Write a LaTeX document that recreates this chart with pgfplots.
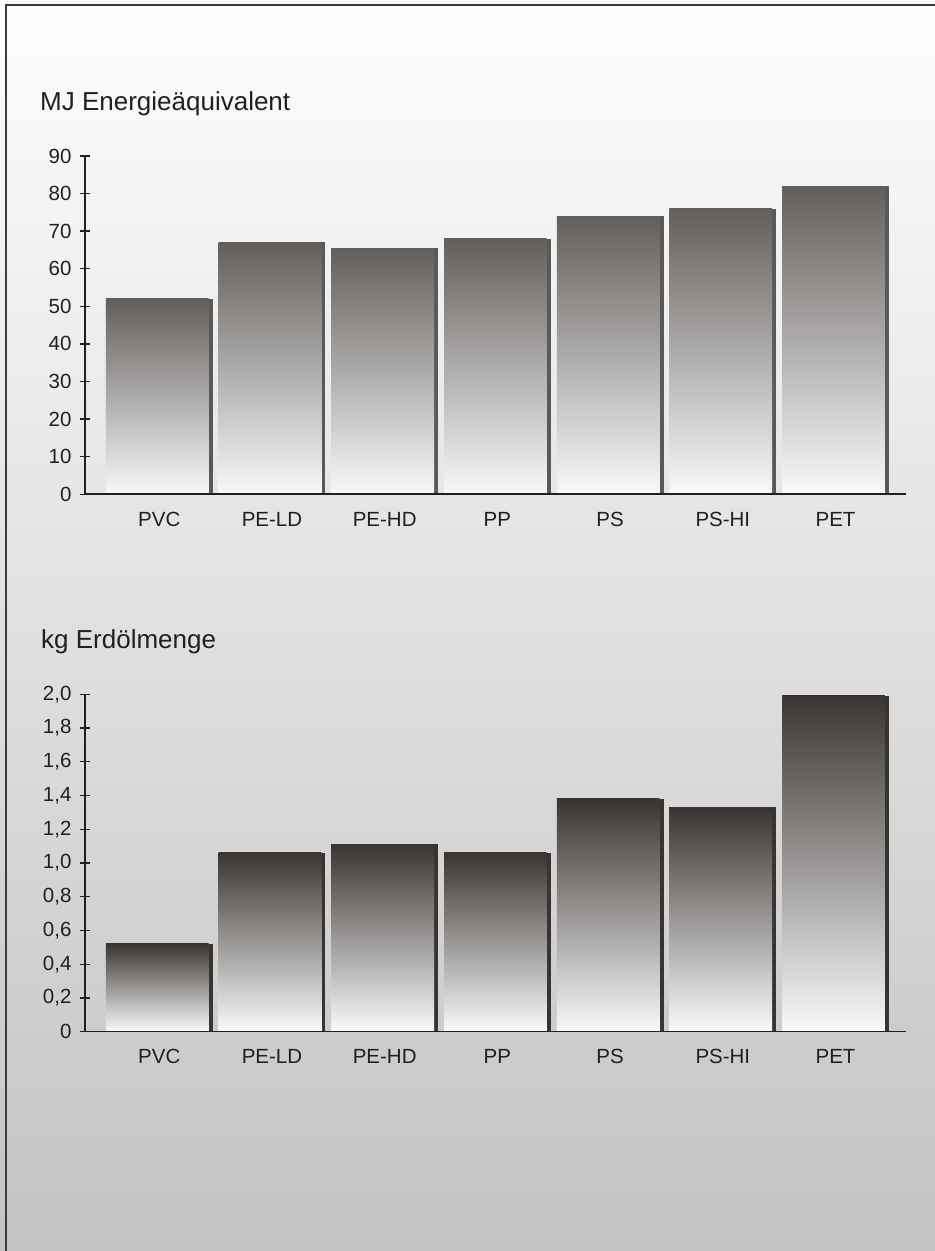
\documentclass[border=0pt]{standalone}
\usepackage{fontspec}
\setmainfont{Liberation Sans}
\usepackage{pgfplots}
\pgfplotsset{compat=1.18}

\definecolor{ink}{RGB}{35,31,32}
\definecolor{bgtop}{RGB}{253,253,253}
\definecolor{bgbot}{RGB}{195,195,195}
\definecolor{frame}{RGB}{60,60,60}
\definecolor{mjtop}{RGB}{98,94,91}
\definecolor{mjbot}{RGB}{249,249,249}
\definecolor{mjside}{RGB}{92,88,86}
\definecolor{kgtop}{RGB}{58,53,50}
\definecolor{kgbot}{RGB}{250,250,250}
\definecolor{kgside}{RGB}{58,52,49}

% MJ energy equivalent per kg of plastic
\pgfplotstableread{
x  v
0  52
1  67
2  65.5
3  68
4  74
5  76
6  82
}\mjdata
% kg crude oil per kg of plastic
\pgfplotstableread{
x  v
0  0.52
1  1.06
2  1.11
3  1.06
4  1.38
5  1.33
6  1.99
}\kgdata

\pgfplotsset{
  barchart/.style={
    scale only axis,
    width=821bp,
    xmin=-0.659, xmax=6.625,
    ymin=0,
    axis x line*=bottom,
    axis y line*=left,
    axis line style={ink, line width=1.6bp, -},
    axis on top,
    xtick={0,...,6},
    xticklabels={PVC,PE-LD,PE-HD,PP,PS,PS-HI,PET},
    xtick style={draw=none},
    ytick style={ink, line width=1.4bp},
    ytick align=center,
    major tick length=10bp,
    tick label style={font=\fontsize{20.5bp}{23bp}\selectfont, text=ink},
    xticklabel style={anchor=base, inner sep=0pt, yshift=-32bp},
    yticklabel style={anchor=east, xshift=-5bp},
    clip=false,
  },
}

% one bar per plot, so that every bar carries its own gradient
\newcommand{\shadedbars}[4]{% table, side colour, top colour, bottom colour
  \pgfplotsinvokeforeach{0,...,6}{
    \addplot[ybar, bar width=0.947, bar shift=0, fill=#2, draw=none,
             restrict expr to domain={\coordindex}{##1:##1}]
      table[x=x, y=v] {#1};
    \addplot[ybar, bar width=0.911, bar shift=-0.018, draw=none,
             top color=#3, bottom color=#4,
             restrict expr to domain={\coordindex}{##1:##1}]
      table[x=x, y=v] {#1};
  }%
}

\begin{document}
\begin{tikzpicture}[x=1bp,y=1bp]
  \useasboundingbox (0,0) rectangle (935,1251);
  \shade[top color=bgtop, bottom color=bgbot] (0,0) rectangle (935,1251);
  \draw[frame, line width=2bp] (6,0) -- (6,1246) -- (935,1246);

  \node[anchor=base west, inner sep=0pt, text=ink,
        font=\fontsize{26bp}{30bp}\selectfont] at (40,1140) {MJ Energieäquivalent};
  \node[anchor=base west, inner sep=0pt, text=ink,
        font=\fontsize{26bp}{30bp}\selectfont] at (41,602.7) {kg Erdölmenge};

  \begin{axis}[barchart,
      at={(85bp,756.7bp)}, anchor=south west,
      height=338.3bp, ymax=90,
      ytick={0,10,...,90},
      yticklabels={0,10,20,30,40,50,60,70,80,90}]
    \shadedbars{\mjdata}{mjside}{mjtop}{mjbot}
  \end{axis}

  \begin{axis}[barchart,
      at={(85bp,219.3bp)}, anchor=south west,
      height=337.4bp, ymax=2,
      ytick={0,0.2,...,2.0},
      yticklabels={0,{0,2},{0,4},{0,6},{0,8},{1,0},{1,2},{1,4},{1,6},{1,8},{2,0}}]
    \shadedbars{\kgdata}{kgside}{kgtop}{kgbot}
  \end{axis}
\end{tikzpicture}
\end{document}
